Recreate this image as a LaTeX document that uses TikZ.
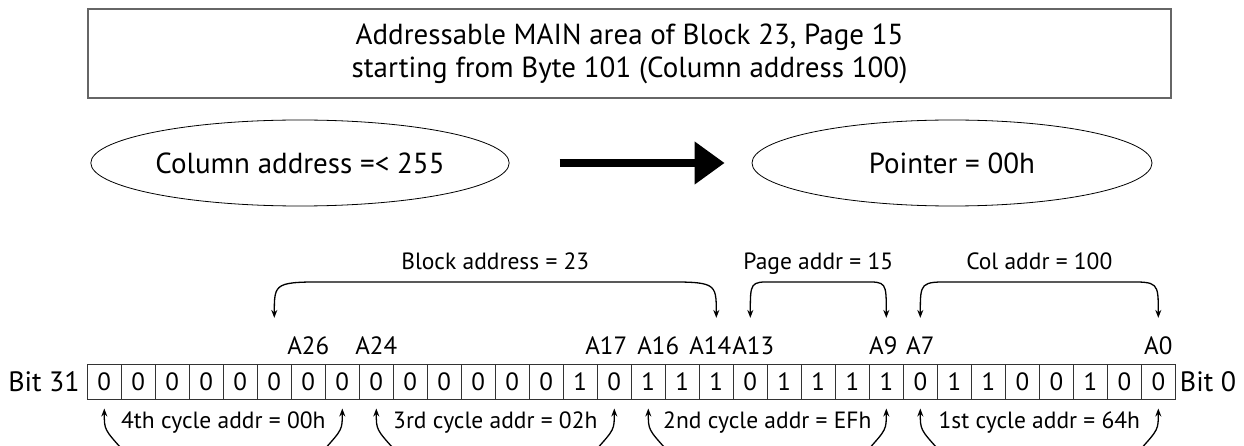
\documentclass[tikz,border=0pt]{standalone}
\usepackage{fontspec}
\setmainfont{PT Sans}
\usetikzlibrary{arrows.meta}
\usetikzlibrary{positioning}
\usetikzlibrary{shapes, shapes.geometric}

\begin{document}
\begin{tikzpicture}[x=1pt,y=-1pt,
    bitcell/.style={draw=black!80, line width=0.9pt, minimum width=34pt, minimum height=34.7pt, inner sep=0pt, font=\fontsize{25}{28}\selectfont},
    addrlbl/.style={inner sep=0pt, font=\fontsize{25}{28}\selectfont},
    fieldlbl/.style={inner sep=0pt, font=\fontsize{23.5}{28}\selectfont},
    oval/.style={ellipse, draw, line width=0.8pt, minimum width=400pt, minimum height=86pt, font=\fontsize{29}{34}\selectfont},
    span/.style={line width=1.3pt, {Stealth[length=8pt,width=6pt]}-{Stealth[length=8pt,width=6pt]}},
    cyc/.style={line width=1.3pt, -{Stealth[length=8pt,width=6pt]}}]
        \useasboundingbox (0,0) rectangle (1244,446);

        % Title box
        \node[draw=black!60, line width=1.6pt, minimum width=1083pt, minimum height=89pt, align=center,
              font=\fontsize{29}{33}\selectfont] (title) at (629.5,53.5)
              {Addressable MAIN area of Block 23, Page 15\\starting from Byte 101 (Column address 100)};

        % Column address -> pointer
        \node[oval] (coladdr) at (300,163) {Column address =< 255};
        \node[oval] (pointer) at (952,163) {Pointer = 00h};
        \draw[line width=8pt, -{Triangle[length=30pt,width=41pt]}, shorten <=50pt, shorten >=27pt] (coladdr) -- (pointer);

        % Address register, bit 31 on the left
        \foreach \b [count=\i from 0] in {0,0,0,0,0,0,0,0, 0,0,0,0,0,0,1,0, 1,1,1,0,1,1,1,1, 0,1,1,0,0,1,0,0}
            \node[bitcell] (cell\i) at (87.3+34*\i+17,381.7) {\b};
        \node[anchor=east, inner sep=0pt, font=\fontsize{28}{34}\selectfont] (bit31) at ([xshift=-7pt]cell0.west) {Bit 31};
        \node[anchor=west, inner sep=0pt, font=\fontsize{28}{34}\selectfont] (bit0) at ([xshift=4pt]cell31.east) {Bit 0};

        % Address line labels
        \foreach \c/\t/\dx in {6/A26/0, 8/A24/0, 15/A17/-8, 16/A16/10, 18/A14/-6, 19/A13/3, 23/A9/-3, 24/A7/0, 31/A0/0}
            \node[addrlbl, anchor=base] (a\c) at ([xshift=\dx pt,yshift=9pt]cell\c.north) {\t};

        % Field spans
        \foreach \l/\r/\w/\txt in {5/18/58/Block address = 23, 19/23/22/Page addr = 15, 24/31/32/Col addr = 100}{
            \coordinate (L\l) at ([yshift=46pt]cell\l.north);
            \coordinate (R\l) at ([yshift=46pt]cell\r.north);
            \draw[span] (L\l) .. controls ([yshift=36pt]L\l) .. ([xshift=\w pt,yshift=36pt]L\l)
                -- ([xshift=-\w pt,yshift=36pt]R\l) .. controls ([yshift=36pt]R\l) .. (R\l);
            \path ([yshift=48pt]L\l) -- ([yshift=48pt]R\l) node[fieldlbl, midway, anchor=base] (F\l) {\txt};
        }

        % Address cycles
        \foreach \a/\z/\txt in {0/7/4th cycle addr = 00h, 8/15/3rd cycle addr = 02h, 16/23/2nd cycle addr = EFh, 24/31/1st cycle addr = 64h}{
            \path ([yshift=-29pt]cell\a.south) -- ([yshift=-29pt]cell\z.south) node[fieldlbl, midway, anchor=base] (cy\a) {\txt};
            \coordinate (tl\a) at ([yshift=-9pt]cell\a.south);
            \coordinate (tr\a) at ([yshift=-9pt]cell\z.south);
            \coordinate (bl\a) at ([xshift=18pt,yshift=-50pt]cell\a.south);
            \coordinate (br\a) at ([xshift=-18pt,yshift=-50pt]cell\z.south);
            \draw[cyc] (bl\a) .. controls ([yshift=-30pt]cell\a.south) .. (tl\a);
            \draw[cyc] (br\a) .. controls ([yshift=-30pt]cell\z.south) .. (tr\a);
        }
    \end{tikzpicture}
\end{document}
